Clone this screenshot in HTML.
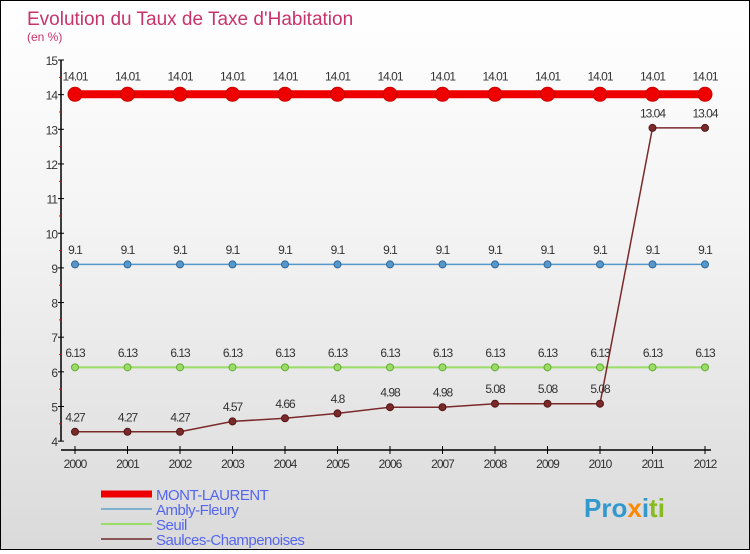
<!DOCTYPE html>
<html><head><meta charset="utf-8"><style>
html,body{margin:0;padding:0}
body{width:750px;height:550px;overflow:hidden;font-family:"Liberation Sans",sans-serif}
#wrap{position:absolute;left:0;top:0;width:748px;height:548px;border:1px solid #000;background:linear-gradient(#fff,#f4f4f4 40%,#dadada)}
</style></head><body>
<div id="wrap">
<svg id="chart" width="748" height="548" style="font-family:'Liberation Sans',sans-serif"></svg>
</div>
<script>
const years=[2000,2001,2002,2003,2004,2005,2006,2007,2008,2009,2010,2011,2012];
const mont=[14.01,14.01,14.01,14.01,14.01,14.01,14.01,14.01,14.01,14.01,14.01,14.01,14.01];
const ambly=[9.1,9.1,9.1,9.1,9.1,9.1,9.1,9.1,9.1,9.1,9.1,9.1,9.1];
const seuil=[6.13,6.13,6.13,6.13,6.13,6.13,6.13,6.13,6.13,6.13,6.13,6.13,6.13];
const saulces=[4.27,4.27,4.27,4.57,4.66,4.8,4.98,4.98,5.08,5.08,5.08,13.04,13.04];
const yTicks=[4,5,6,7,8,9,10,11,12,13,14,15];
const NS='http://www.w3.org/2000/svg';
const svg=document.getElementById('chart');
const X=i=>74+i*52.5;
const Y=v=>59+(15-v)*34.65;
function mk(t,a,p){const e=document.createElementNS(NS,t);for(const k in a)e.setAttribute(k,a[k]);(p||svg).appendChild(e);return e;}
let t=mk('text',{x:26,y:24,'font-size':19,fill:'#c8336a'});t.textContent="Evolution du Taux de Taxe d'Habitation";

t=mk('text',{x:26,y:40,'font-size':12,fill:'#c8336a'});t.textContent="(en %)";

let a=mk('line',{x1:60,y1:Y(15),x2:60,y2:Y(4),stroke:'#000','stroke-width':1.5});

a=mk('line',{x1:60,y1:449,x2:710,y2:449,stroke:'#000','stroke-width':1.5});

yTicks.forEach(v=>{mk('line',{x1:57,y1:Y(v),x2:63,y2:Y(v),stroke:'#000'});
 if(v<15)mk('line',{x1:58,y1:Y(v+0.5),x2:61,y2:Y(v+0.5),stroke:'#e00'});
 const l=mk('text',{x:56,y:Y(v)+5,'font-size':12,fill:'#333','text-anchor':'end','letter-spacing':'-1'});l.textContent=v;
 });
years.forEach((yr,i)=>{mk('line',{x1:X(i),y1:445,x2:X(i),y2:453,stroke:'#000'});
 const l=mk('text',{x:X(i),y:467,'font-size':12,fill:'#333','text-anchor':'middle','letter-spacing':'-1'});l.textContent=yr;
 });
function series(data,color,lw,r,name,dark){
 const g=mk('g',{});
 mk('polyline',{points:data.map((v,i)=>X(i)+','+Y(v)).join(' '),fill:'none',stroke:color,'stroke-width':lw},g);
 data.forEach((v,i)=>{const c=mk('circle',{cx:X(i),cy:Y(v),r:r,fill:color,stroke:dark,'stroke-width':1},g);
  
  const l=mk('text',{x:X(i),y:Y(v)-(r+7),'font-size':12,fill:'#333','text-anchor':'middle','letter-spacing':'-1'},g);
  l.textContent=String(v);});
}
series(seuil,'#99dd66',2,3.5,'seuil','#66aa33');
series(ambly,'#5599cc',1.5,3.5,'ambly-fleury','#336699');
series(saulces,'#7a2a2a',1.5,3.5,'saulces-champenoises','#551515');
series(mont,'#ee0000',8,7,'mont-laurent','#cc0000');
const leg=[['MONT-LAURENT','#ee0000',7],['Ambly-Fleury','#7fb0cc',2],['Seuil','#99dd66',2],['Saulces-Champenoises','#8a5555',2]];
leg.forEach((e,i)=>{const y=493+i*15;const g=mk('g',{});
 mk('line',{x1:100,y1:y,x2:151,y2:y,stroke:e[1],'stroke-width':e[2]},g);
 const l=mk('text',{x:155,y:y+6,'font-size':15,fill:'#5566ee','letter-spacing':'-0.5'},g);l.textContent=e[0];});
const lg=mk('text',{x:583,y:516,'font-size':26,'font-weight':'bold',fill:'#3399cc'});

lg.innerHTML='<tspan fill="#3399cc">Pro</tspan><tspan fill="#ff8800">x</tspan><tspan fill="#3399cc">i</tspan><tspan fill="#88bb22">ti</tspan>';
</script>
</body></html>
